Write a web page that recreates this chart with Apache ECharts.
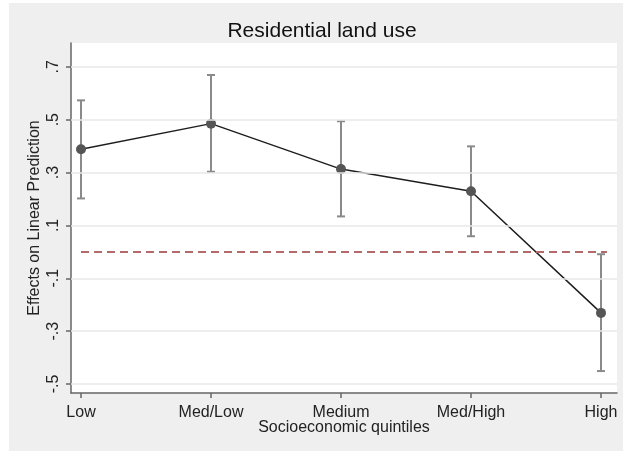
<!DOCTYPE html>
<html>
<head>
<meta charset="utf-8">
<script src="https://cdn.jsdelivr.net/npm/echarts@6/dist/echarts.min.js"></script>
<style>
  html, body { margin: 0; padding: 0; background: #ffffff; }
  #chart { width: 623px; height: 453px; }
</style>
</head>
<body>
<div id="chart"></div>
<script>
// Socioeconomic quintiles on the x axis
const categories = ['Low', 'Med/Low', 'Medium', 'Med/High', 'High'];
// Point estimates and 95% confidence bounds
const estimates = [0.388, 0.485, 0.313, 0.229, -0.231];
const lowerCI = [0.202, 0.303, 0.134, 0.059, -0.451];
const upperCI = [0.573, 0.669, 0.494, 0.399, -0.009];
// Y-axis tick values
const yTicks = [-0.5, -0.3, -0.1, 0.1, 0.3, 0.5, 0.7];
// Reference line
const refValue = 0;

const FONT = 'Liberation Sans, Arial, sans-serif';
const xIdx = categories.map((_, i) => i);

function fmtY(v) {
  const s = (Math.round(v * 10) / 10).toFixed(1);
  return s.replace(/^(-?)0\./, '$1.');
}

const chart = echarts.init(document.getElementById('chart'), null, { renderer: 'canvas' });

chart.setOption({
  animation: false,
  backgroundColor: '#efefef',
  graphic: [
    { type: 'rect', shape: { x: 0, y: 0, width: 9, height: 453 }, style: { fill: '#ffffff' }, silent: true },
    { type: 'rect', shape: { x: 0, y: 0, width: 623, height: 3 }, style: { fill: '#ffffff' }, silent: true },
    { type: 'rect', shape: { x: 0, y: 451, width: 623, height: 2 }, style: { fill: '#ffffff' }, silent: true }
  ],
  title: {
    text: 'Residential land use',
    left: 317,
    textAlign: 'center',
    top: 16,
    textStyle: { fontFamily: FONT, fontSize: 21, fontWeight: 'normal', color: '#111111' }
  },
  grid: {
    left: 71, right: 6, top: 43, bottom: 60,
    show: true, backgroundColor: '#ffffff', borderWidth: 0
  },
  xAxis: {
    type: 'value',
    min: -0.077,
    max: 4.123,
    name: 'Socioeconomic quintiles',
    nameLocation: 'middle',
    nameGap: 27,
    nameMoveOverlap: false,
    nameTextStyle: { fontFamily: FONT, fontSize: 16, color: '#222222' },
    axisLine: { show: true, onZero: false, lineStyle: { color: '#666666', width: 1.5 } },
    axisTick: { show: true, customValues: xIdx, length: 5, lineStyle: { color: '#666666', width: 1.5 } },
    axisLabel: {
      customValues: xIdx,
      margin: 12,
      fontFamily: FONT, fontSize: 16, color: '#222222',
      formatter: v => categories[Math.round(v)] || ''
    },
    splitLine: { show: false }
  },
  yAxis: {
    type: 'value',
    min: -0.534,
    max: 0.79,
    name: 'Effects on Linear Prediction',
    nameLocation: 'middle',
    nameGap: 28,
    nameMoveOverlap: false,
    nameTextStyle: { fontFamily: FONT, fontSize: 16, color: '#222222' },
    axisLine: { show: true, onZero: false, lineStyle: { color: '#666666', width: 1.5 } },
    axisTick: { show: true, customValues: yTicks, length: 5, lineStyle: { color: '#666666', width: 1.5 } },
    axisLabel: {
      customValues: yTicks,
      rotate: 90,
      margin: 9,
      fontFamily: FONT, fontSize: 16, color: '#222222',
      formatter: v => fmtY(v)
    },
    splitLine: { show: false }
  },
  series: [
    {
      // horizontal grid lines at each y tick
      type: 'line',
      data: [],
      silent: true,
      z: 1,
      markLine: {
        silent: true,
        symbol: 'none',
        label: { show: false },
        lineStyle: { color: '#e8e8e8', width: 1.5, type: 'solid' },
        data: yTicks.map(v => ({ yAxis: v }))
      }
    },
    {
      // dashed reference line
      type: 'line',
      data: [],
      silent: true,
      z: 2,
      markLine: {
        silent: true,
        symbol: 'none',
        label: { show: false },
        lineStyle: { color: '#b36a6a', width: 2, type: [8, 5] },
        data: [[
          { coord: [0, refValue] },
          { coord: [categories.length - 1 + 0.046, refValue] }
        ]]
      }
    },
    {
      // confidence interval bars with caps
      type: 'custom',
      z: 3,
      silent: true,
      data: xIdx.map(i => [i, lowerCI[i], upperCI[i]]),
      renderItem: (params, api) => {
        const x = api.value(0);
        const lo = api.coord([x, api.value(1)]);
        const hi = api.coord([x, api.value(2)]);
        const cap = 4;
        const style = { stroke: '#8a8a8a', lineWidth: 2 };
        return {
          type: 'group',
          children: [
            { type: 'line', shape: { x1: lo[0], y1: lo[1], x2: hi[0], y2: hi[1] }, style },
            { type: 'line', shape: { x1: lo[0] - cap, y1: lo[1], x2: lo[0] + cap, y2: lo[1] }, style },
            { type: 'line', shape: { x1: hi[0] - cap, y1: hi[1], x2: hi[0] + cap, y2: hi[1] }, style }
          ]
        };
      }
    },
    {
      // point estimates connected by a line
      type: 'line',
      z: 4,
      data: xIdx.map(i => [i, estimates[i]]),
      symbol: 'circle',
      symbolSize: 10,
      lineStyle: { color: '#1e1e1e', width: 1.5 },
      itemStyle: { color: '#555555', borderWidth: 0 }
    }
  ]
});
</script>
</body>
</html>
